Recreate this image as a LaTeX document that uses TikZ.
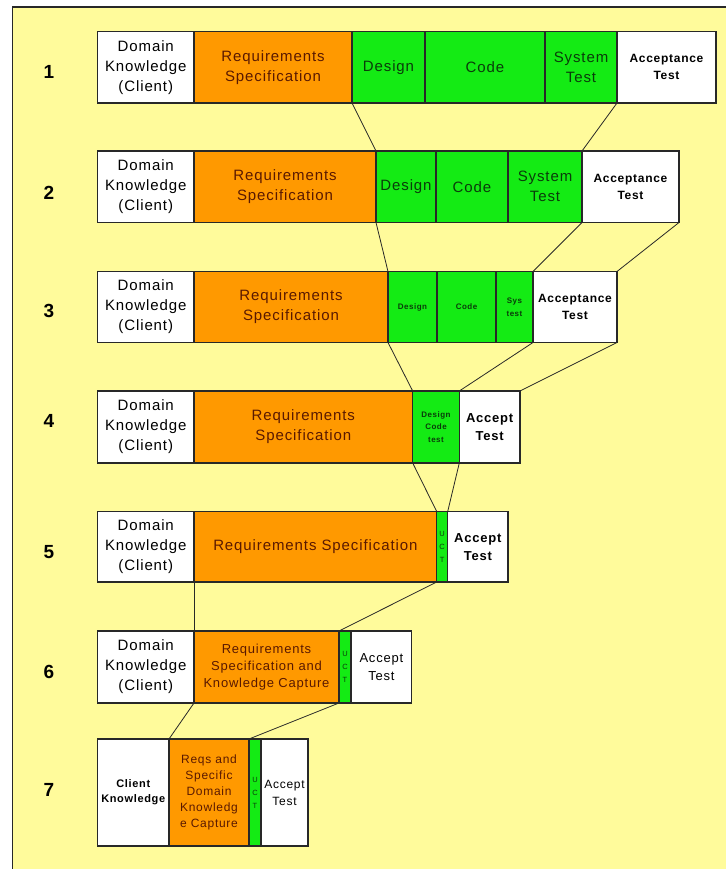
\documentclass[tikz,border=0pt]{standalone}
\usepackage{fontspec}
\setmainfont{Liberation Sans}[LetterSpace=6]
\definecolor{bg}{RGB}{255,251,155}
\definecolor{org}{RGB}{255,153,0}
\definecolor{grn}{RGB}{20,235,20}
\definecolor{otxt}{RGB}{90,25,0}
\definecolor{gtxt}{RGB}{10,60,10}
\definecolor{ln}{RGB}{40,40,40}
\tikzset{
 cell/.style={draw=ln, line width=1.1pt, inner sep=0pt, outer sep=0pt, anchor=north west, align=center, font=\fontsize{15}{20}\selectfont},
 wcell/.style={cell, fill=white, text=black},
 ocell/.style={cell, fill=org, text=otxt},
 gcell/.style={cell, fill=grn, text=gtxt},
 acc/.style={font=\fontsize{12}{17}\selectfont\bfseries},
 acc2/.style={font=\fontsize{13}{18}\selectfont\bfseries},
 tiny/.style={font=\fontsize{8}{12.5}\selectfont\bfseries},
 uct/.style={font=\fontsize{7.5}{13}\selectfont},
 conn/.style={draw=ln, line width=0.8pt},
 rowlab/.style={font=\fontsize{19}{22}\selectfont\bfseries},
}
\begin{document}
\begin{tikzpicture}[x=1pt,y=-1pt]
\useasboundingbox (0,0) rectangle (726,869);
\fill[bg] (12.5,7) rectangle (726,869);
\draw[ln, line width=1.5pt] (12.5,869) -- (12.5,7) -- (726,7);
% row labels
\node[rowlab] (n1) at (49,72) {1};
\node[rowlab] (n2) at (49,193) {2};
\node[rowlab] (n3) at (49,311) {3};
\node[rowlab] (n4) at (49,421) {4};
\node[rowlab] (n5) at (49,552) {5};
\node[rowlab] (n6) at (49,672) {6};
\node[rowlab] (n7) at (49,790) {7};
% row 1
\node[wcell, minimum width=96.5pt, minimum height=71.5pt] (a1) at (97.5,31.5) {Domain\\Knowledge\\(Client)};
\node[ocell, minimum width=158pt, minimum height=71.5pt] (b1) at (194,31.5) {Requirements\\Specification};
\node[gcell, minimum width=73pt, minimum height=71.5pt] (c1) at (352,31.5) {Design};
\node[gcell, minimum width=120pt, minimum height=71.5pt] (d1) at (425,31.5) {Code};
\node[gcell, minimum width=72pt, minimum height=71.5pt] (e1) at (545,31.5) {System\\Test};
\node[wcell, acc, minimum width=99pt, minimum height=71.5pt] (f1) at (617,31.5) {Acceptance\\Test};
% row 2
\node[wcell, minimum width=96.5pt, minimum height=71.5pt] (a2) at (97.5,151) {Domain\\Knowledge\\(Client)};
\node[ocell, minimum width=182pt, minimum height=71.5pt] (b2) at (194,151) {Requirements\\Specification};
\node[gcell, minimum width=60pt, minimum height=71.5pt] (c2) at (376,151) {Design};
\node[gcell, minimum width=72pt, minimum height=71.5pt] (d2) at (436,151) {Code};
\node[gcell, minimum width=74pt, minimum height=71.5pt] (e2) at (508,151) {System\\Test};
\node[wcell, acc, minimum width=97pt, minimum height=71.5pt] (f2) at (582,151) {Acceptance\\Test};
% row 3
\node[wcell, minimum width=96.5pt, minimum height=71pt] (a3) at (97.5,271.5) {Domain\\Knowledge\\(Client)};
\node[ocell, minimum width=194pt, minimum height=71pt] (b3) at (194,271.5) {Requirements\\Specification};
\node[gcell, tiny, minimum width=49pt, minimum height=71pt] (c3) at (388,271.5) {Design};
\node[gcell, tiny, minimum width=59pt, minimum height=71pt] (d3) at (437,271.5) {Code};
\node[gcell, tiny, minimum width=37pt, minimum height=71pt] (e3) at (496,271.5) {Sys\\test};
\node[wcell, acc, minimum width=84pt, minimum height=71pt] (f3) at (533,271.5) {Acceptance\\Test};
% row 4
\node[wcell, minimum width=96.5pt, minimum height=72pt] (a4) at (97.5,391) {Domain\\Knowledge\\(Client)};
\node[ocell, minimum width=218.7pt, minimum height=72pt] (b4) at (194,391) {Requirements\\Specification};
\node[gcell, tiny, minimum width=46.6pt, minimum height=72pt] (c4) at (412.7,391) {Design\\Code\\test};
\node[wcell, acc2, minimum width=60.7pt, minimum height=72pt] (d4) at (459.3,391) {Accept\\Test};
% row 5
\node[wcell, minimum width=96.5pt, minimum height=70.5pt] (a5) at (97.5,511.5) {Domain\\Knowledge\\(Client)};
\node[ocell, minimum width=242.7pt, minimum height=70.5pt] (b5) at (194,511.5) {Requirements Specification};
\node[gcell, uct, minimum width=11pt, minimum height=70.5pt] (c5) at (436.7,511.5) {U\\C\\T};
\node[wcell, acc2, minimum width=60.3pt, minimum height=70.5pt] (d5) at (447.7,511.5) {Accept\\Test};
% row 6
\node[wcell, minimum width=96.5pt, minimum height=72pt] (a6) at (97.5,631) {Domain\\Knowledge\\(Client)};
\node[ocell, font=\fontsize{13}{17}\selectfont, minimum width=145pt, minimum height=72pt] (b6) at (194,631) {Requirements\\Specification and\\Knowledge Capture};
\node[gcell, uct, minimum width=12pt, minimum height=72pt] (c6) at (339,631) {U\\C\\T};
\node[wcell, font=\fontsize{13}{18}\selectfont, minimum width=60.7pt, minimum height=72pt] (d6) at (351,631) {Accept\\Test};
% row 7
\node[wcell, font=\fontsize{11}{15}\selectfont\bfseries, minimum width=71.5pt, minimum height=107pt] (a7) at (97.5,739) {Client\\Knowledge};
\node[ocell, font=\fontsize{12}{16}\selectfont, minimum width=80pt, minimum height=107pt] (b7) at (169,739) {Reqs and\\Specific\\Domain\\Knowledg\\e Capture};
\node[gcell, uct, minimum width=12pt, minimum height=107pt] (c7) at (249,739) {U\\C\\T};
\node[wcell, font=\fontsize{12}{17}\selectfont, minimum width=47pt, minimum height=107pt] (d7) at (261,739) {Accept\\Test};
% connectors
\draw[conn] (c1.south west) -- (c2.north west);
\draw[conn] (e1.south east) -- (e2.north east);
\draw[conn] (c2.south west) -- (c3.north west);
\draw[conn] (e2.south east) -- (e3.north east);
\draw[conn] (f2.south east) -- (f3.north east);
\draw[conn] (c3.south west) -- (c4.north west);
\draw[conn] (e3.south east) -- (c4.north east);
\draw[conn] (f3.south east) -- (d4.north east);
\draw[conn] (c4.south west) -- (c5.north west);
\draw[conn] (c4.south east) -- (c5.north east);
\draw[conn] (a5.south east) -- (a6.north east);
\draw[conn] (c5.south west) -- (c6.north west);
\draw[conn] (a6.south east) -- (a7.north east);
\draw[conn] (c6.south west) -- (c7.north west);
\end{tikzpicture}
\end{document}
